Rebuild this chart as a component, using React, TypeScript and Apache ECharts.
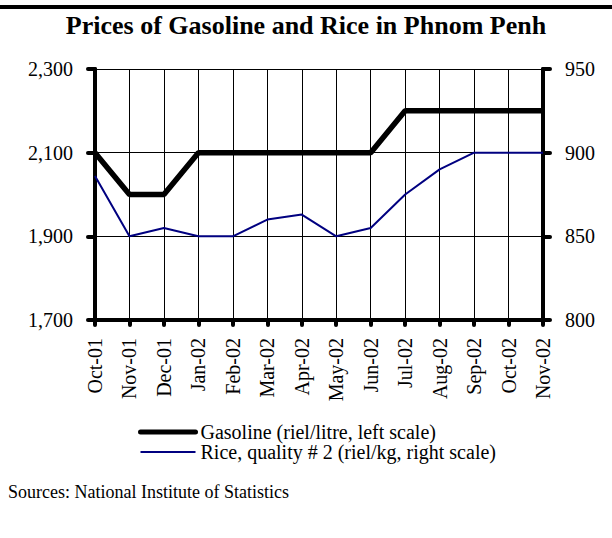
import React, { useEffect, useRef } from "react";
import * as echarts from "echarts";

const months = ["Oct-01", "Nov-01", "Dec-01", "Jan-02", "Feb-02", "Mar-02", "Apr-02", "May-02", "Jun-02", "Jul-02", "Aug-02", "Sep-02", "Oct-02", "Nov-02"];
const gasoline = [2100, 2000, 2000, 2100, 2100, 2100, 2100, 2100, 2100, 2200, 2200, 2200, 2200, 2200];
const rice = [886, 850, 855, 850, 850, 860, 863, 850, 855, 875, 890, 900, 900, 900];
const titleText = "Prices of Gasoline and Rice in Phnom Penh";
const gasolineName = "Gasoline (riel/litre, left scale)";
const riceName = "Rice, quality # 2 (riel/kg, right scale)";
const sourceText = "Sources: National Institute of Statistics";

const FONT = "'Liberation Serif', 'Times New Roman', serif";

export default function App() {
  const ref = useRef<HTMLDivElement>(null);
  useEffect(() => {
    const chart = echarts.init(ref.current!, null, { renderer: "svg" });
    chart.setOption({
      animation: false,
      backgroundColor: "#fff",
      textStyle: { fontFamily: FONT },
      title: {
        text: titleText,
        left: "center",
        top: 12,
        padding: 0,
        textStyle: { fontFamily: FONT, fontWeight: "bold", fontSize: 26, color: "#000" },
      },
      grid: { left: 95, right: 69, top: 69, height: 251 },
      legend: {
        orient: "vertical",
        left: 138,
        top: 422,
        padding: 0,
        itemWidth: 55,
        itemHeight: 14,
        itemGap: 0,
        itemStyle: { opacity: 0 },
        textStyle: { fontFamily: FONT, fontSize: 20, lineHeight: 20, color: "#000" },
        data: [
          { name: gasolineName, lineStyle: { color: "#000", width: 5, cap: "round" } },
          { name: riceName, lineStyle: { color: "#000080", width: 2 } },
        ],
      },
      xAxis: {
        type: "category",
        data: months,
        boundaryGap: false,
        axisLine: { lineStyle: { color: "#000", width: 4 } },
        axisTick: { show: true, length: 5, lineStyle: { color: "#000", width: 4, cap: "round" } },
        axisLabel: { rotate: 90, fontFamily: FONT, fontSize: 20, color: "#000", margin: 18 },
        splitLine: { show: true, lineStyle: { color: "#000", width: 1 } },
      },
      yAxis: [
        {
          type: "value",
          min: 1700,
          max: 2300,
          interval: 200,
          axisLine: { show: true, lineStyle: { color: "#000", width: 4 } },
          axisTick: { show: true, length: 7, lineStyle: { color: "#000", width: 4, cap: "round" } },
          axisLabel: {
            fontFamily: FONT,
            fontSize: 20,
            color: "#000",
            margin: 22,
            formatter: (v: number) => v.toLocaleString("en-US"),
          },
          splitLine: { show: true, lineStyle: { color: "#000", width: 1 } },
        },
        {
          type: "value",
          min: 800,
          max: 950,
          interval: 50,
          position: "right",
          axisLine: { show: true, lineStyle: { color: "#000", width: 4 } },
          axisTick: { show: true, length: 7, lineStyle: { color: "#000", width: 4, cap: "round" } },
          axisLabel: { fontFamily: FONT, fontSize: 20, color: "#000", margin: 22 },
          splitLine: { show: false },
        },
      ],
      series: [
        {
          name: gasolineName,
          type: "line",
          yAxisIndex: 0,
          data: gasoline,
          symbol: "none",
          lineStyle: { color: "#000", width: 5.5 },
          itemStyle: { color: "#000" },
        },
        {
          name: riceName,
          type: "line",
          yAxisIndex: 1,
          data: rice,
          symbol: "none",
          lineStyle: { color: "#000080", width: 2 },
          itemStyle: { color: "#000080" },
        },
      ],
      graphic: [
        { type: "rect", left: 0, top: 5, shape: { width: 612, height: 4 }, style: { fill: "#000" } },
        {
          type: "text",
          left: 8,
          top: 483,
          style: { text: sourceText, font: `18px ${FONT}`, fill: "#000" },
        },
      ],
    });
    return () => chart.dispose();
  }, []);
  return <div ref={ref} style={{ position: "absolute", left: 0, top: 0, width: 612, height: 538 }} />;
}
